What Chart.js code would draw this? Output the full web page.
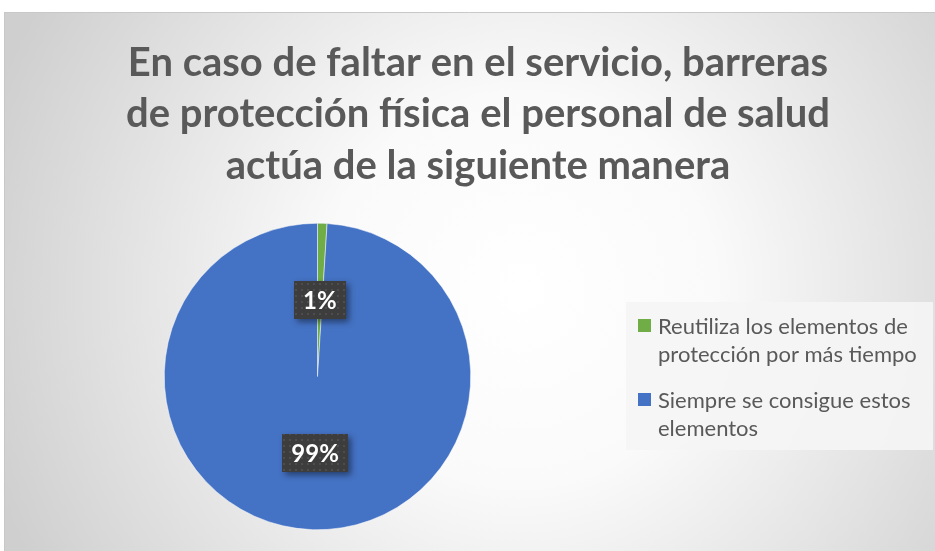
<!DOCTYPE html>
<html>
<head>
<meta charset="utf-8">
<script src="https://cdn.jsdelivr.net/npm/chart.js@4/dist/chart.umd.min.js"></script>
<style>
html,body{margin:0;padding:0;background:#fff;}
#wrap{position:absolute;left:0;top:0;width:935px;height:551px;}
</style>
</head>
<body>
<div id="wrap"><canvas id="c" width="935" height="551"></canvas></div>
<script>
const titleLines = ["En caso de faltar en el servicio, barreras", "de protección física el personal de salud", "actúa de la siguiente manera"];
const categories = ["Reutiliza los elementos de protección por más tiempo", "Siempre se consigue estos elementos"];
const legendLines = [["Reutiliza los elementos de", "protección por más tiempo"], ["Siempre se consigue estos", "elementos"]];
const values = [1, 99];
const percentLabels = ["1%", "99%"];
const colors = ["#70AD47", "#4472C4"];

const FONT = "Lato, 'Open Sans', sans-serif";

function makePattern(ctx){
  const t = document.createElement('canvas');
  t.width = 6; t.height = 6;
  const g = t.getContext('2d');
  g.fillStyle = '#3d3d3d'; g.fillRect(0,0,6,6);
  g.fillStyle = '#4d4d4d'; g.fillRect(1,1,2,2);
  return ctx.createPattern(t,'repeat');
}

const bgPlugin = {
  id:'bg',
  beforeDraw(chart){
    const ctx = chart.ctx;
    ctx.save();
    const x0=4,y0=12,x1=935,y1=551;
    const gr = ctx.createRadialGradient(520,290,0,520,290,560);
    gr.addColorStop(0,'#ffffff');
    gr.addColorStop(0.35,'#fafafa');
    gr.addColorStop(1,'#cfcfcf');
    ctx.fillStyle = gr;
    ctx.fillRect(x0,y0,x1-x0,y1-y0);
    ctx.strokeStyle = '#c8c8c8';
    ctx.lineWidth = 1;
    ctx.beginPath(); ctx.moveTo(x0,y0+0.5); ctx.lineTo(x1,y0+0.5); ctx.stroke();
    ctx.beginPath(); ctx.moveTo(x0+0.5,y0); ctx.lineTo(x0+0.5,y1); ctx.stroke();
    // title
    ctx.fillStyle = '#595959';
    ctx.font = 'bold 40px ' + FONT;
    ctx.textAlign = 'center';
    ctx.textBaseline = 'middle';
    const ys=[63,114,166];
    titleLines.forEach((l,i)=>ctx.fillText(l,478,ys[i]));
    ctx.restore();
  },
  afterDraw(chart){
    const ctx = chart.ctx;
    ctx.save();
    // data labels
    const meta = chart.getDatasetMeta(0);
    const pat = makePattern(ctx);
    ctx.font = 'bold 24px ' + FONT;
    ctx.textAlign='center'; ctx.textBaseline='middle';
    meta.data.forEach((arc,i)=>{
      const p = arc.tooltipPosition();
      const txt = percentLabels[i];
      const w = ctx.measureText(txt).width + 18;
      const h = 38;
      ctx.save();
      ctx.shadowColor='rgba(0,0,0,0.45)';
      ctx.shadowBlur=6; ctx.shadowOffsetX=3; ctx.shadowOffsetY=3;
      ctx.fillStyle = pat;
      ctx.fillRect(Math.round(p.x-w/2), Math.round(p.y-h/2), Math.round(w), h);
      ctx.restore();
      ctx.fillStyle='#ffffff';
      ctx.fillText(txt,p.x,p.y+1);
    });
    // legend
    ctx.fillStyle='rgba(245,245,245,0.9)';
    ctx.fillRect(626,302,307,148);
    ctx.font = '22px ' + FONT;
    ctx.textAlign='left'; ctx.textBaseline='middle';
    const starts=[327,401];
    legendLines.forEach((lines,i)=>{
      ctx.fillStyle = chart.data.datasets[0].backgroundColor[i];
      ctx.fillRect(638,starts[i]-8,13,13);
      ctx.fillStyle='#595959';
      lines.forEach((l,j)=>ctx.fillText(l,658,starts[i]+j*28));
    });
    ctx.restore();
  }
};

new Chart(document.getElementById('c'),{
  type:'pie',
  data:{labels:categories,datasets:[{data:values,backgroundColor:colors,borderColor:'#ffffff',borderWidth:0.5}]},
  options:{
    responsive:false,
    animation:false,
    layout:{padding:{top:223,bottom:21,left:163,right:463}},
    plugins:{legend:{display:false},title:{display:false},tooltip:{enabled:false}}
  },
  plugins:[bgPlugin]
});
</script>
</body>
</html>
